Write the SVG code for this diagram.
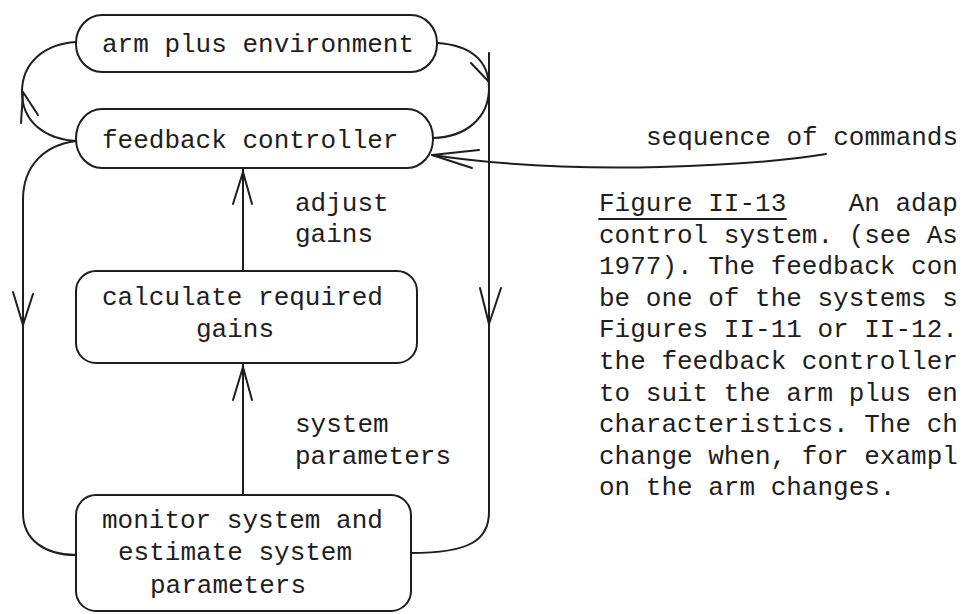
<svg xmlns="http://www.w3.org/2000/svg" width="964" height="614" viewBox="0 0 964 614">
  <style>
    .box { fill: none; stroke: #1e1e1e; stroke-width: 2; }
    .wire { fill: none; stroke: #1e1e1e; stroke-width: 2; stroke-linecap: round; stroke-linejoin: round; }
    .t { font-family: "Liberation Mono", "DejaVu Sans Mono", monospace; font-size: 26px; fill: #1e1e1e; white-space: pre; }
  </style>
  <rect width="964" height="614" fill="#ffffff"/>

  <g id="arm-plus-environment">
    <rect class="box" x="76" y="15" width="361" height="57" rx="26" ry="28"/>
    <text class="t" x="102" y="52">arm plus environment</text>
  </g>

  <g id="feedback-controller">
    <rect class="box" x="76" y="109" width="357" height="59" rx="26" ry="29"/>
    <text class="t" x="102" y="148">feedback controller</text>
  </g>

  <g id="calculate-required-gains">
    <rect class="box" x="76" y="271" width="341" height="92" rx="20" ry="20"/>
    <text class="t" x="102" y="305">calculate required</text>
    <text class="t" x="196" y="337">gains</text>
  </g>

  <g id="monitor-system">
    <rect class="box" x="76" y="495" width="335" height="116" rx="20" ry="20"/>
    <text class="t" x="102" y="528">monitor system and</text>
    <text class="t" x="118" y="560">estimate system</text>
    <text class="t" x="150" y="593">parameters</text>
  </g>

  <g id="connectors">
    <!-- controller to arm (left loop, arrow pointing up) -->
    <path class="wire" d="M76,141 C45,139 22,122 22,92 C22,62 45,44 76,42"/>
    <path class="wire" d="M21,123 L23,92 L38,115"/>

    <!-- arm back to controller (right loop, arrow pointing down) -->
    <path class="wire" d="M437,43 C470,45 489,60 489,88 C489,118 466,137 433,138"/>
    <path class="wire" d="M471,63 L489,82"/>

    <!-- controller output down to monitor -->
    <path class="wire" d="M76,141 C45,145 23,165 23,200 L23,513 C23,540 45,555 76,555"/>
    <path class="wire" d="M13,292 L23,325 L33,294"/>

    <!-- arm output down to monitor -->
    <path class="wire" d="M489,53 L489,512 C489,540 470,553 411,553"/>
    <path class="wire" d="M480,288 L489,324 L501,288"/>

    <!-- adjust gains -->
    <path class="wire" d="M243,271 L243,168"/>
    <path class="wire" d="M233,204 L243,172 L252,204"/>

    <!-- system parameters -->
    <path class="wire" d="M243,495 L243,363"/>
    <path class="wire" d="M233,400 L243,367 L252,400"/>

    <!-- sequence of commands into controller -->
    <path class="wire" d="M432,155 C500,165 580,169 660,167 C740,165 790,160 826,154"/>
    <path class="wire" d="M479,150 L432,155 L472,168"/>

    <text class="t" x="295" y="211">adjust</text>
    <text class="t" x="295" y="242">gains</text>
    <text class="t" x="295" y="432">system</text>
    <text class="t" x="295" y="464">parameters</text>
    <text class="t" x="646" y="145">sequence of commands</text>
  </g>

  <g id="caption">
    <text class="t" x="599" y="211" xml:space="preserve">Figure II-13    An adap</text>
    <line class="wire" x1="599" y1="219" x2="786" y2="219" stroke-width="1.5"/>
    <text class="t" x="599" y="242.6">control system. (see As</text>
    <text class="t" x="599" y="274.2">1977). The feedback con</text>
    <text class="t" x="599" y="305.8">be one of the systems s</text>
    <text class="t" x="599" y="337.4">Figures II-11 or II-12.</text>
    <text class="t" x="599" y="369">the feedback controller</text>
    <text class="t" x="599" y="400.6">to suit the arm plus en</text>
    <text class="t" x="599" y="432.2">characteristics. The ch</text>
    <text class="t" x="599" y="463.8">change when, for exampl</text>
    <text class="t" x="599" y="495.4">on the arm changes.</text>
  </g>
</svg>
